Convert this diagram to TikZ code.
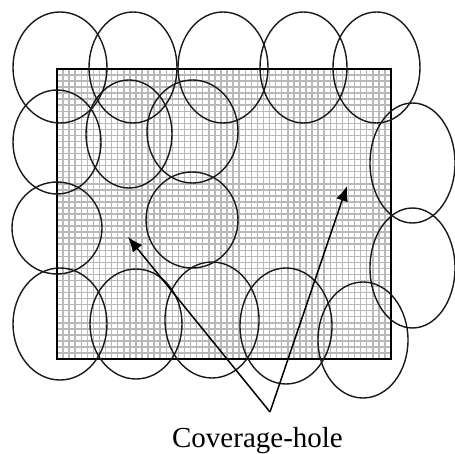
\documentclass[tikz,border=0pt]{standalone}
\usepackage{fontspec}
\setmainfont{Liberation Serif}
\usetikzlibrary{arrows.meta}
\begin{document}
\begin{tikzpicture}[x=1pt,y=-1pt,
		sensor/.style={draw=black!90,line width=1.4pt},
		gridline/.style={draw=gray!55,line width=1.5pt},
		pointer/.style={line width=1.5pt,-{Latex[length=15pt,width=12pt]}}]
		\useasboundingbox (0,0) rectangle (455,454);
		% monitored field
		\foreach \i in {1,...,54} \draw[gridline] ({57+\i*6.0727},69) -- ++(0,290);
		\foreach \j in {1,...,47} \draw[gridline] (57,{69+\j*6.0417}) -- ++(334,0);
		\draw[line width=1.5pt] (57,69) rectangle (391,359);
		% sensing ranges
		\foreach \cx/\cy/\rx/\ry in {60/67.5/47/55.5, 133/67.5/44/55.5, 223/67.5/45/55.5, 303.5/67.5/43.5/55.5, 376.5/67.5/43.5/55.5,
			57/142/44/52, 129/134/43/54, 192.5/131.5/45.5/51.5, 412.5/163/42.5/60,
			57/228/45/46, 192/220/46/48, 412.5/268/42.5/60,
			60/324/47/56, 136/324/46/55, 212/320/47/58, 286/326/46/58, 363/340/45/58}
			\draw[sensor] (\cx,\cy) ellipse [x radius=\rx, y radius=\ry];
		% holes
		\coordinate (apex) at (270,412);
		\coordinate (holeA) at (128,237);
		\coordinate (holeB) at (347,186);
		\draw[pointer] (apex) -- (holeA);
		\draw[pointer] (apex) -- (holeB);
		\node[font=\fontsize{29}{31}\selectfont,anchor=base,inner sep=0pt] (label) at (257.5,447) {Coverage-hole};
	\end{tikzpicture}
\end{document}
